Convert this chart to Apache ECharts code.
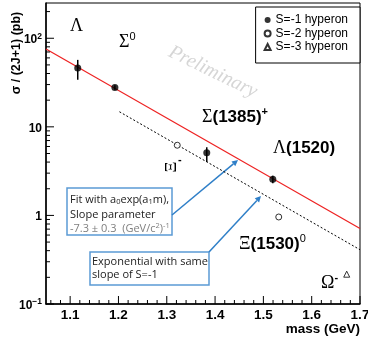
<!DOCTYPE html>
<html>
<head>
<meta charset="utf-8">
<script src="https://cdn.jsdelivr.net/npm/echarts@6/dist/echarts.min.js"></script>
<style>
  html, body { margin: 0; padding: 0; background: #fff; }
  #main { width: 368px; height: 343px; }
</style>
</head>
<body>
<div id="main"></div>
<script>
// data (mass in GeV, sigma/(2J+1) in pb)
var s1Mass = [1.1157, 1.1926, 1.3828, 1.5195];
var s1Val = [46, 27.8, 5.1, 2.56];
var s1Lo = [34, 26.2, 4.0, 2.3];
var s1Hi = [57, 29.4, 5.9, 2.8];
var s2Mass = [1.3217, 1.5318];
var s2Val = [6.2, 0.96];
var s3Mass = [1.6725];
var s3Val = [0.217];
// fit line (red) and same-slope line (dotted), end points
var fitMass = [1.05, 1.7];
var fitVal = [75.5, 0.71];
var sameMass = [1.202, 1.7];
var sameVal = [14.8, 0.41];
// axis ranges
var xMin = 1.05, xMax = 1.7;
var yMin = 0.1, yMax = 250;

function pairs(xs, ys) {
    var out = [];
    for (var i = 0; i < xs.length; i++) out.push([xs[i], ys[i]]);
    return out;
}

// tick marks: [x, y, direction(0 = x axis, 1 = y axis), length]
var ticks = [];
for (var k = 0; k <= 32; k++) {
    var v = +(1.06 + k * 0.02).toFixed(2);
    if (v > xMax + 1e-9) break;
    var major = Math.abs(v * 10 - Math.round(v * 10)) < 1e-6;
    ticks.push([v, yMin, 0, major ? 8 : 4]);
}
for (var e = -1; e <= 2; e++) {
    for (var m = 1; m <= 9; m++) {
        var tv = m * Math.pow(10, e);
        if (tv > yMax) break;
        ticks.push([xMin, tv, 1, m === 1 ? 8 : 4]);
    }
}

var errData = [];
for (var i = 0; i < s1Mass.length; i++) errData.push([s1Mass[i], s1Lo[i], s1Hi[i]]);

var chart = echarts.init(document.getElementById('main'));

var serif = '"Liberation Serif", "DejaVu Serif", serif';
var sans = '"Liberation Sans", Arial, sans-serif';
var light = '"Open Sans", "Noto Sans", sans-serif';

// rich styles for the particle names
var nameRich = {
    g: { font: '18px ' + serif, fill: '#000', lineHeight: 20, verticalAlign: 'bottom' },
    b: { font: 'bold 17px ' + sans, fill: '#000', lineHeight: 20, verticalAlign: 'bottom' },
    p: { font: 'bold 11px ' + sans, fill: '#000', lineHeight: 6, verticalAlign: 'top' },
    q: { font: '11px ' + sans, fill: '#000', lineHeight: 6, verticalAlign: 'top' }
};

function pname(s, x, y) {
    return {
        type: 'text', x: x, y: y, silent: true,
        style: { text: s, rich: nameRich, align: 'left', verticalAlign: 'middle' }
    };
}

function arrow(x1, y1, x2, y2) {
    var ang = Math.atan2(y2 - y1, x2 - x1);
    var L = 6, W = 3;
    var bx = x2 - L * Math.cos(ang), by = y2 - L * Math.sin(ang);
    return [
        { type: 'line', silent: true, shape: { x1: x1, y1: y1, x2: bx, y2: by }, style: { stroke: '#2f7fc8', lineWidth: 1.5 } },
        { type: 'polygon', silent: true, shape: { points: [[x2, y2], [bx + W * Math.sin(ang), by - W * Math.cos(ang)], [bx - W * Math.sin(ang), by + W * Math.cos(ang)]] }, style: { fill: '#2f7fc8' } }
    ];
}

var graphics = [
    // y title
    { type: 'text', x: 17, y: 53, rotation: Math.PI / 2, silent: true, style: { text: 'σ / (2J+1) (pb)', font: 'bold 12.5px ' + sans, fill: '#000', align: 'center', verticalAlign: 'middle' } },
    // x title
    { type: 'text', x: 360, y: 329, silent: true, style: { text: 'mass (GeV)', font: 'bold 13.5px ' + sans, fill: '#000', align: 'right', verticalAlign: 'middle' } },
    // watermark
    { type: 'text', x: 213, y: 72, rotation: -26 * Math.PI / 180, silent: true, style: { text: 'Preliminary', font: 'italic 20px ' + serif, fill: '#d6d6d6', align: 'center', verticalAlign: 'middle' } },
    // particle labels
    pname('{g|Λ}', 70, 25),
    pname('{g|Σ}{q|0}', 119, 41),
    pname('{g|Σ}{b|(1385)}{p|+}', 202, 116),
    pname('{g|Λ}{b|(1520)}', 273, 147),
    pname('{g|Ξ}{b|(1530)}{q|0}', 239, 243),
    pname('{g|Ω}{p|-}', 321, 282),
    { type: 'text', x: 172, y: 167, rotation: Math.PI / 2, silent: true, style: { text: 'Ξ', font: '17px ' + serif, fill: '#000', align: 'center', verticalAlign: 'middle' } },
    { type: 'text', x: 178, y: 160, silent: true, style: { text: '-', font: 'bold 11px ' + sans, fill: '#000', align: 'left', verticalAlign: 'middle' } },
    // annotation boxes
    { type: 'rect', silent: true, shape: { x: 67, y: 188, width: 105, height: 47 }, style: { fill: '#fff', stroke: '#5b9bd5', lineWidth: 1.5 } },
    {
        type: 'text', x: 70, y: 191, silent: true,
        style: {
            text: '{n|Fit with a}{sub|0}{n|exp(a}{sub|1}{n|m),}\n{n|Slope parameter}\n{g|-7.3 ± 0.3  (GeV/c}{gs|2}{g|)}{gs|-1}',
            rich: {
                n: { font: '11px ' + light, fill: '#222', lineHeight: 14.5, verticalAlign: 'bottom' },
                sub: { font: '7.5px ' + light, fill: '#222', lineHeight: 14.5, verticalAlign: 'bottom', padding: [4, 0, 0, 0] },
                g: { font: '11px ' + light, fill: '#7f7f7f', lineHeight: 14.5, verticalAlign: 'bottom' },
                gs: { font: '7.5px ' + light, fill: '#7f7f7f', lineHeight: 14.5, verticalAlign: 'bottom', padding: [0, 0, 5, 0] }
            }
        }
    },
    { type: 'rect', silent: true, shape: { x: 90, y: 252, width: 119, height: 33 }, style: { fill: '#fff', stroke: '#5b9bd5', lineWidth: 1.5 } },
    {
        type: 'text', x: 92, y: 255, silent: true,
        style: { text: 'Exponential with same\nslope of S=-1', font: '11px ' + light, fill: '#222', lineHeight: 13, align: 'left', verticalAlign: 'top' }
    }
].concat(arrow(172, 215, 238, 160)).concat(arrow(209, 252, 261, 196));

chart.setOption({
    animation: false,
    backgroundColor: '#fff',
    grid: {
        left: 46, right: 8, top: 3, bottom: 39, outerBoundsMode: 'none',
        show: true, borderColor: '#000', borderWidth: 1, backgroundColor: 'transparent'
    },
    legend: {
        data: ['S=-1 hyperon', 'S=-2 hyperon', 'S=-3 hyperon'],
        orient: 'vertical', right: 8, top: 7,
        backgroundColor: '#fff', borderColor: '#000', borderWidth: 1, borderRadius: 0,
        padding: [7, 12, 10, 8], itemGap: 1.5, itemWidth: 6, itemHeight: 6, itemTextGap: 8,
        formatter: function (name) { return '{i|S}{t|' + name.slice(1) + '}'; },
        textStyle: {
            rich: {
                i: { font: 'italic 11px ' + light, color: '#000' },
                t: { font: '11px ' + light, color: '#000' }
            }
        }
    },
    xAxis: {
        type: 'value', min: xMin, max: xMax, splitNumber: 7,
        axisLine: { lineStyle: { color: '#000', width: 1.5 } },
        axisTick: { show: false }, splitLine: { show: false },
        axisLabel: {
            color: '#000', fontFamily: sans, fontWeight: 'bold', fontSize: 13.5, margin: 4,
            formatter: function (v) {
                if (v < 1.08 || Math.abs(v * 10 - Math.round(v * 10)) > 1e-6) return '';
                return v.toFixed(1);
            }
        }
    },
    yAxis: {
        type: 'log', logBase: 10, min: yMin, max: yMax,
        axisLine: { lineStyle: { color: '#000', width: 1.5 } },
        axisTick: { show: false }, splitLine: { show: false },
        axisLabel: {
            margin: 4, showMaxLabel: false,
            formatter: function (v) {
                var l = Math.log(v) / Math.LN10, r = Math.round(l);
                if (Math.abs(l - r) > 1e-6) return '';
                if (r === 0) return '{b|1}';
                if (r === 1) return '{b|10}';
                if (r === -1) return '{b|10}{s|−1}';
                return '{b|10}{s|' + r + '}';
            },
            rich: {
                b: { fontFamily: sans, fontWeight: 'bold', fontSize: 12, color: '#000', verticalAlign: 'bottom', lineHeight: 15 },
                s: { fontFamily: sans, fontWeight: 'bold', fontSize: 8.5, color: '#000', verticalAlign: 'bottom', lineHeight: 15, padding: [0, 0, 5, 0] }
            }
        }
    },
    graphic: graphics,
    series: [
        {
            name: 'fit', type: 'line', data: pairs(fitMass, fitVal), showSymbol: false, silent: true,
            lineStyle: { color: '#ee2222', width: 1.2 }, z: 2
        },
        {
            name: 'same slope', type: 'line', data: pairs(sameMass, sameVal), showSymbol: false, silent: true,
            lineStyle: { color: '#000', width: 1, type: [2, 2] }, z: 2
        },
        {
            name: 'errors', type: 'custom', data: errData, clip: false, z: 3,
            renderItem: function (params, api) {
                var a = api.coord([api.value(0), api.value(1)]);
                var b = api.coord([api.value(0), api.value(2)]);
                return { type: 'line', shape: { x1: a[0], y1: a[1], x2: b[0], y2: b[1] }, style: { stroke: '#000', lineWidth: 1.5 } };
            }
        },
        {
            name: 'S=-1 hyperon', type: 'scatter', data: pairs(s1Mass, s1Val), symbol: 'circle', symbolSize: 7,
            itemStyle: { color: '#000' }, z: 4
        },
        {
            name: 'S=-2 hyperon', type: 'scatter', data: pairs(s2Mass, s2Val), symbol: 'circle', symbolSize: 6,
            itemStyle: { color: '#fff', borderColor: '#000', borderWidth: 1 }, z: 4
        },
        {
            name: 'S=-3 hyperon', type: 'scatter', data: pairs(s3Mass, s3Val), symbol: 'triangle', symbolSize: 6,
            itemStyle: { color: '#fff', borderColor: '#000', borderWidth: 1 }, z: 4
        },
        {
            name: 'ticks', type: 'custom', data: ticks, clip: false, silent: true, z: 5,
            renderItem: function (params, api) {
                var p = api.coord([api.value(0), api.value(1)]);
                var len = api.value(3);
                var horiz = api.value(2) === 1;
                return {
                    type: 'line',
                    shape: horiz ? { x1: p[0], y1: p[1], x2: p[0] + len, y2: p[1] } : { x1: p[0], y1: p[1], x2: p[0], y2: p[1] - len },
                    style: { stroke: '#000', lineWidth: 1 }
                };
            }
        }
    ]
});
</script>
</body>
</html>
